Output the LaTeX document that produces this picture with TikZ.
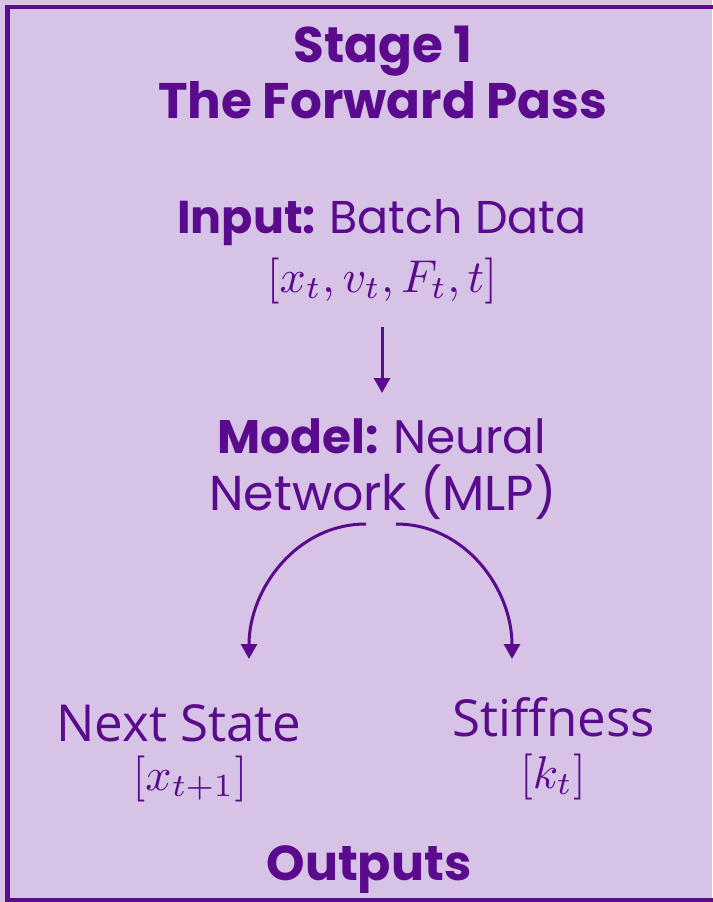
\documentclass[tikz,border=0pt]{standalone}
\usepackage{fontspec}
\setmainfont{Poppins}
\newfontfamily\labelfont{Open Sans}
\usetikzlibrary{arrows.meta}
\definecolor{deep}{HTML}{5A0A8C}
\definecolor{panel}{HTML}{D7C3E5}
\newcommand{\bigmath}[1]{\scalebox{4.6}{$#1$}}
\tikzset{
  txt/.style={text=deep, anchor=base, inner sep=0pt},
  arr/.style={draw=deep, line width=3pt, -{Triangle[length=15pt,width=16pt]}},
}
\begin{document}
\begin{tikzpicture}[x=1pt,y=-1pt]
  \useasboundingbox (0,0) rectangle (712,902);
  % panel
  \fill[panel] (0,0) rectangle (712,902);
  \draw[deep, line width=4.5pt] (730,7) -- (7.5,7) -- (7.5,900) -- (730,900);
  % title
  \node[txt, font=\fontsize{50}{60}\selectfont\bfseries] (t1) at (383,62) {Stage 1};
  \node[txt, font=\fontsize{50}{60}\selectfont\bfseries] (t2) at (383,118) {The Forward Pass};
  % input
  \node[txt, font=\fontsize{46}{55}\selectfont] (in) at (382,233) {\textbf{Input:}\hspace{0.3em}Batch Data};
  \node[txt] (inm) at (382,292) {\bigmath{[x_t,v_t,F_t,t]}};
  % model
  \node[txt, font=\fontsize{47}{55}\selectfont] (m1) at (382,453) {\textbf{Model:}\hspace{0.3em}Neural};
  \node[txt, font=\fontsize{49}{55}\selectfont] (m2) at (383,510) {Network (MLP)};
  % outputs
  \node[txt, font=\fontsize{51}{60}\selectfont\labelfont] (ns) at (179,741) {Next State};
  \node[txt] (nsm) at (190,790) {\bigmath{[x_{t+1}]}};
  \node[txt, font=\fontsize{51}{60}\selectfont\labelfont] (st) at (554,736) {Stiffness};
  \node[txt] (stm) at (553,788) {\bigmath{[k_t]}};
  \node[txt, font=\fontsize{49}{55}\selectfont\bfseries] (out) at (369,880) {Outputs};
  % connectors
  \coordinate (a0) at (382,327);
  \coordinate (a1) at (382,393);
  \coordinate (l0) at (366,524);
  \coordinate (l1) at (249,659);
  \coordinate (r0) at (396,524);
  \coordinate (r1) at (512,659);
  \draw[arr] (a0) -- (a1);
  \draw[arr] (l0) to[out=180,in=90] (l1);
  \draw[arr] (r0) to[out=0,in=90] (r1);
\end{tikzpicture}
\end{document}
